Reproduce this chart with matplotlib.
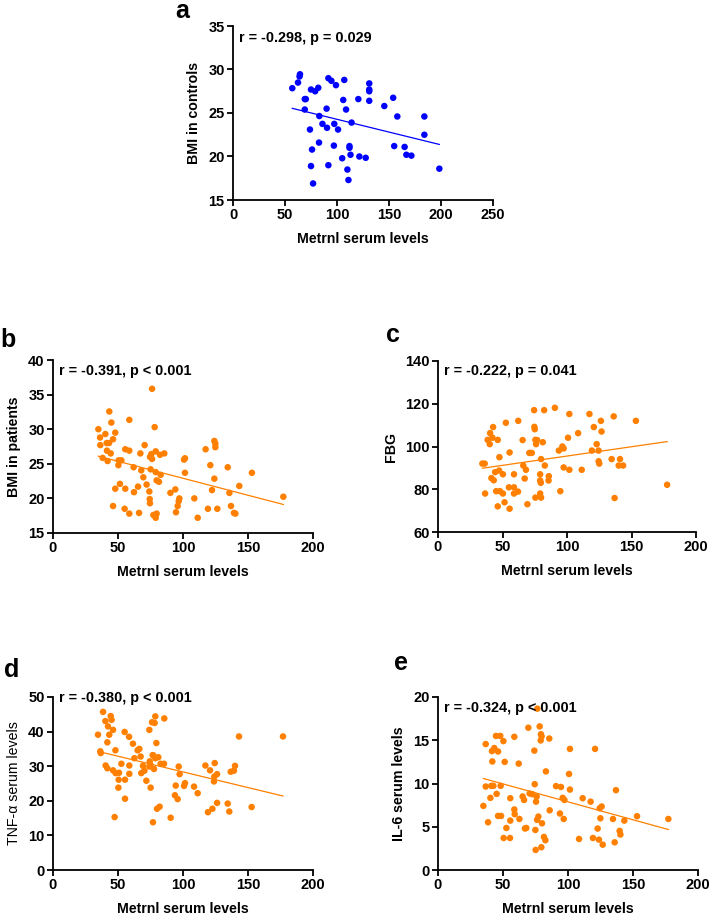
import numpy as np
import matplotlib
matplotlib.use("Agg")
import matplotlib.pyplot as plt

plt.rcParams['font.family'] = ['Liberation Sans', 'DejaVu Sans']

BLUE = '#0000FF'
ORANGE = '#FF8000'

# panel a - controls
a_x = [57, 62.5, 64, 64.4, 69, 70, 69, 75, 79, 82, 83, 74, 86, 82.7, 76, 75, 77,
       90, 90.4, 91.7, 91.7, 94.6, 99, 97, 97.4, 101, 107, 106, 108.7, 114, 105,
       112, 112, 113, 110, 111, 120.5, 121.5, 127.6, 131, 131, 131, 131, 145.5,
       154, 158, 155, 165, 166.7, 171.5, 184, 184, 198.4]
a_y = [27.85, 28.5, 29.2, 29.45, 26.6, 26.6, 25.4, 27.7, 27.5, 27.9, 24.65, 23.1,
       23.75, 21.6, 20.8, 18.9, 16.9, 25.5, 23.3, 19.0, 29.0, 28.7, 28.2, 21.25,
       23.75, 23.1, 28.8, 26.5, 25.4, 23.9, 19.8, 21.2, 21.0, 20.2, 18.5, 17.3,
       26.6, 20.0, 19.85, 28.4, 27.7, 27.5, 26.4, 25.8, 26.75, 24.6, 21.2, 21.1,
       20.2, 20.1, 24.6, 22.5, 18.6]

# panel b - BMI in patients
b_x = [76.2, 43.3, 58.7, 44.9, 78.2, 34.9, 40.3, 47.9, 36.2, 46.2, 41.3, 43.1,
       36.4, 70.5, 55.6, 58.7, 41.5, 44.4, 67.2, 75.6, 79, 82.3, 85.6, 76.2, 74.6,
       38.2, 42, 50.5, 52.6, 50.3, 62, 67.9, 75.1, 79, 82.8, 69.5, 72, 79.7, 81.5,
       74.1, 74.4, 74.6, 51.5, 47.9, 55.6, 62.3, 65.4, 46.2, 55.1, 58.7, 66.2,
       77.2, 79.7, 79, 90.3, 94.1, 97.2, 96.7, 95.9, 94.6, 108.7, 111.3, 100.8,
       101.5, 101.5, 117.4, 124.1, 124.9, 124.9, 121, 124.1, 122.3, 119.2, 126.4,
       134.4, 135.7, 136.9, 139.2, 140.3, 143.3, 153, 177.2]
b_y = [35.84, 32.56, 31.35, 30.96, 30.3, 30.0, 29.3, 29.5, 28.8, 28.55, 28.0, 28.0,
       27.7, 27.7, 27.1, 26.9, 26.9, 26.5, 26.5, 26.4, 26.8, 26.3, 26.5, 25.7, 26.0,
       25.85, 25.4, 25.5, 25.5, 24.8, 24.5, 24.05, 24.2, 23.8, 23.4, 23.05, 22.0,
       22.6, 22.4, 21.0, 19.9, 19.3, 22.1, 21.4, 21.4, 20.9, 21.7, 18.9, 18.5, 17.8,
       17.9, 17.6, 17.8, 17.2, 20.8, 21.3, 20.0, 19.6, 18.9, 18.0, 20.0, 17.2, 25.6,
       25.8, 23.7, 27.1, 28.3, 27.9, 27.4, 24.8, 22.85, 21.2, 18.5, 18.5, 24.5, 20.8,
       18.9, 17.9, 17.8, 21.8, 23.7, 20.24]

# panel c - FBG
c_x = [34.4, 36.2, 36.5, 38.5, 40.4, 40.1, 42.2, 42.7, 46.3, 41.4, 43.2, 44.3,
       47.4, 50.3, 47.6, 55.5, 52.6, 62.2, 45.1, 48, 50.3, 46.3, 51.6, 55.5, 55,
       58.9, 58.9, 62, 58.9, 65.6, 66.1, 68.2, 67.2, 69.3, 74.5, 74.7, 75, 70.8,
       72.7, 75.5, 76.0, 76.8, 81.2, 79.9, 82.8, 79.2, 79.2, 79.7, 85.9, 85.7, 79.2,
       75.5, 79.9, 82.3, 90.6, 93.7, 96.4, 97.4, 100.8, 97.4, 101.8, 94.8, 101.8,
       108.6, 111.4, 117.4, 120.8, 126.3, 126.8, 123, 119.3, 124.5, 124.5, 125,
       134.6, 136.2, 136.9, 140.1, 141.1, 143.5, 153.4, 177.6]
c_y = [92.0, 92.0, 78.0, 103.1, 106.25, 101.1, 104.1, 109.1, 103.1, 85.2, 84.2, 88.0,
       88.75, 87.0, 95.0, 97.2, 111.1, 112.0, 79.1, 79.1, 78.0, 72.0, 73.9, 70.9,
       80.9, 80.9, 78.0, 78.9, 87.0, 103.0, 91.1, 89.1, 85.0, 73.0, 117.0, 109.2,
       108.1, 97.0, 97.0, 103.1, 101.1, 103.0, 102.0, 94.1, 91.1, 87.0, 84.1, 83.0,
       86.1, 84.1, 78.0, 76.1, 76.1, 117.0, 118.1, 98.1, 100.0, 99.1, 104.1, 90.2,
       89.1, 79.1, 115.2, 106.25, 89.1, 115.2, 109.1, 112.0, 107.0, 101.1, 98.1, 98.1,
       93.1, 92.0, 94.1, 114.1, 75.9, 91.1, 94.1, 91.1, 112.0, 82.1]

# panel d - TNF-alpha
d_x = [34.6, 36.4, 36.7, 38.5, 40.3, 42.3, 44.4, 45.1, 46.2, 43.3, 41.8, 40.5, 41.8,
       46.2, 48.2, 48, 50.8, 52.6, 50.5, 50.3, 47.4, 55.4, 55.4, 55.1, 58.5, 58.7,
       58.7, 61.5, 62.6, 65.1, 66.4, 67.4, 67.9, 69.2, 70.3, 71.8, 74.1, 74.4, 75.1,
       76.2, 76.7, 74.1, 74.9, 78.2, 78.7, 77.7, 77.2, 78.7, 79.5, 81.0, 80, 82,
       76.9, 85.6, 82.8, 85.4, 90.5, 94.4, 93.8, 95.9, 96.7, 97.4, 100.8, 101.5,
       108.5, 111.3, 117.2, 120.8, 124.4, 124.1, 123.8, 126.2, 119.2, 122.6, 126.2,
       134.4, 135.6, 136.7, 139.2, 140, 143.1, 152.8, 176.9]
d_y = [39.1, 34.3, 33.8, 45.7, 43.05, 41.5, 44.5, 43.4, 40.5, 39.1, 36.9, 30.2, 29.4,
       28.8, 28.0, 34.6, 28.1, 30.7, 26.1, 23.8, 15.3, 26.1, 20.6, 39.9, 38.5, 30.2,
       27.8, 36.5, 32.3, 34.6, 35.0, 32.8, 28.0, 30.1, 28.7, 25.8, 40.5, 31.4, 23.8,
       42.7, 33.2, 29.9, 30.4, 42.5, 44.4, 29.2, 33.1, 32.3, 36.7, 32.6, 17.7, 18.3,
       13.8, 43.8, 30.7, 30.7, 15.1, 24.4, 21.6, 20.5, 29.9, 27.7, 24.3, 25.1, 24.1,
       22.2, 30.2, 28.8, 30.9, 27.0, 25.6, 27.7, 16.7, 17.7, 19.4, 19.2, 16.9, 28.4,
       28.7, 30.1, 38.6, 18.2, 38.6]

# panel e - IL-6
e_x = [34.9, 36.7, 36.7, 38.5, 40.3, 41.0, 41.5, 41.8, 42.6, 43.3, 44.6, 45.1, 46.2,
       46.2, 47.9, 48.2, 48.5, 50.3, 51.3, 50.5, 52.6, 55.4, 55.6, 55.6, 58.7, 58.7,
       59, 62.1, 62.6, 65.1, 66.2, 66.9, 67.9, 69.5, 70.5, 72.6, 74.1, 74.4, 74.9,
       75.4, 75.9, 75.1, 76.2, 77.2, 76.4, 78.2, 79.2, 79.7, 79.0, 79.5, 80, 81.5,
       82.6, 83, 85.6, 85.9, 90.8, 93.8, 94.6, 95.9, 97.2, 96.7, 100.8, 101.5, 101.5,
       108.5, 111.3, 117.4, 119.2, 120.8, 122.8, 123.8, 124.4, 125.9, 124.9, 126.7,
       134.6, 135.9, 136.9, 139.7, 140.3, 143.3, 153.1, 177.2]
e_y = [7.41, 14.56, 9.65, 5.52, 8.34, 9.73, 13.75, 12.55, 9.73, 14.1, 15.5, 8.8, 13.7,
       6.25, 15.5, 9.73, 6.25, 14.9, 12.5, 3.7, 4.86, 3.7, 5.71, 8.3, 15.4, 7.0, 6.45,
       12.3, 5.9, 8.5, 8.1, 4.8, 4.86, 16.45, 8.84, 8.76, 13.8, 9.92, 4.63, 7.9, 8.5,
       2.32, 5.8, 6.18, 18.65, 16.6, 15.7, 15.45, 14.98, 2.63, 5.4, 3.82, 3.44, 11.4,
       15.2, 6.9, 9.7, 6.53, 9.6, 8.34, 8.1, 5.9, 11.1, 14.0, 9.3, 3.59, 8.3, 7.9, 3.7,
       14.0, 4.79, 3.51, 7.14, 7.34, 5.98, 2.93, 5.9, 3.2, 9.23, 4.52, 4.1, 5.71, 6.22,
       5.9]

panels = [
    # letter, x, y, color, ylabel, stats, xticks, yticks
    ('a', a_x, a_y, BLUE, 'BMI in controls', 'r = -0.298, p = 0.029',
     np.arange(0, 251, 50), np.arange(15, 36, 5)),
    ('b', b_x, b_y, ORANGE, 'BMI in patients', 'r = -0.391, p < 0.001',
     np.arange(0, 201, 50), np.arange(15, 41, 5)),
    ('c', c_x, c_y, ORANGE, 'FBG', 'r = -0.222, p = 0.041',
     np.arange(0, 201, 50), np.arange(60, 141, 20)),
    ('d', d_x, d_y, ORANGE, 'TNF-\u03b1 serum levels', 'r = -0.380, p < 0.001',
     np.arange(0, 201, 50), np.arange(0, 51, 10)),
    ('e', e_x, e_y, ORANGE, 'IL-6 serum levels', 'r = -0.324, p < 0.001',
     np.arange(0, 201, 50), np.arange(0, 21, 5)),
]

W, H = 709, 915
# axes boxes in pixels: left, top, right, bottom
boxes = {
    'a': (233, 26, 493, 200),
    'b': (53, 360, 313, 533),
    'c': (438, 361, 696, 532),
    'd': (53, 697, 313, 870),
    'e': (438, 697, 698, 870),
}
# where the stats text sits (px below the top of the axes)
stat_dy = {'a': 12, 'b': 11, 'c': 10, 'd': 1, 'e': 11}
# panel letter positions (left, baseline) in px
letter_pos = {'a': (175, 18), 'b': (0, 347), 'c': (386, 342), 'd': (4, 677), 'e': (394, 670)}

fig = plt.figure(figsize=(W / 100, H / 100), dpi=100)

for letter, xs, ys, col, ylab, stat, xt, yt in panels:
    l, t, r, b = boxes[letter]
    ax = fig.add_axes([l / W, 1 - b / H, (r - l) / W, (b - t) / H])
    xs = np.array(xs)
    ys = np.array(ys)
    ax.scatter(xs, ys, s=22, color=col, edgecolors='none', zorder=3, clip_on=False)
    k, c0 = np.polyfit(xs, ys, 1)
    lx = np.array([xs.min(), xs.max()])
    ax.plot(lx, k * lx + c0, color=col, lw=0.9, zorder=2)

    ax.set_xlim(xt[0], xt[-1])
    ax.set_ylim(yt[0], yt[-1])
    ax.set_xticks(xt)
    ax.set_yticks(yt)
    for s in ['top', 'right']:
        ax.spines[s].set_visible(False)
    for s in ['left', 'bottom']:
        ax.spines[s].set_linewidth(1.3)
    ax.tick_params(direction='out', length=4, width=1.3, labelsize=10.5, pad=2)
    for lab in ax.get_xticklabels() + ax.get_yticklabels():
        lab.set_fontweight('bold')

    ax.set_xlabel('Metrnl serum levels', fontsize=10.2, fontweight='bold', labelpad=7)
    ax.set_ylabel(ylab, fontsize=10.2,
                  fontweight='normal' if letter == 'd' else 'bold', labelpad=5)

    ax.annotate(stat, xy=(0, 1), xycoords='axes fraction',
                xytext=(6 * 0.72, -stat_dy[letter] * 0.72), textcoords='offset points',
                ha='left', va='center', fontsize=10.4, fontweight='bold')

    lx0, ly0 = letter_pos[letter]
    fig.text(lx0 / W, 1 - ly0 / H, letter, fontsize=18, fontweight='bold',
             ha='left', va='baseline')

fig.savefig('out.png', dpi=100)
